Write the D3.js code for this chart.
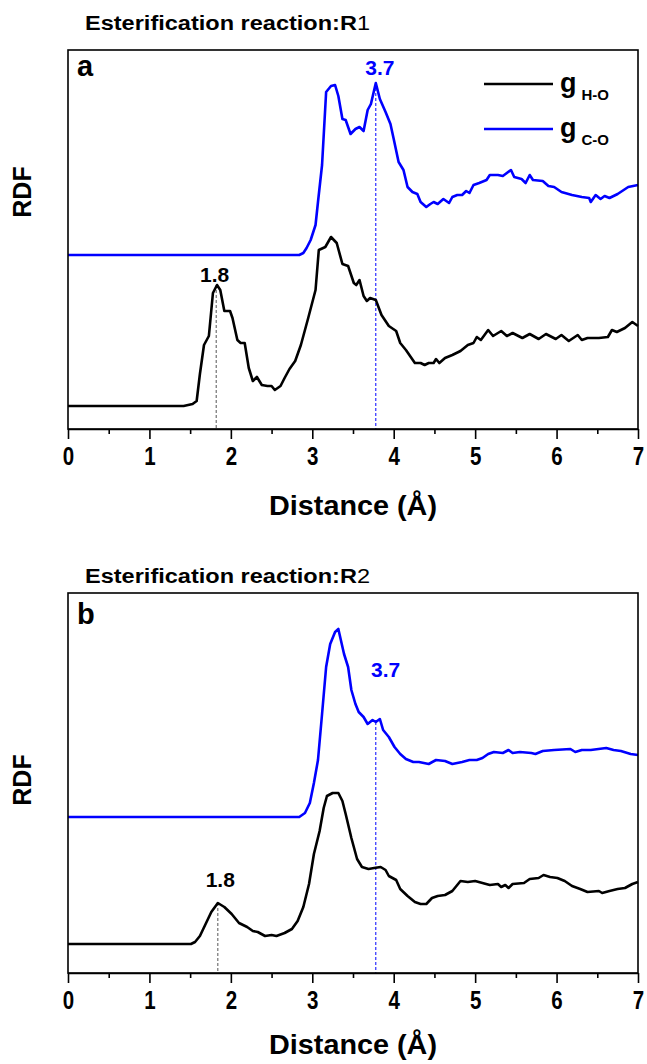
<!DOCTYPE html>
<html><head><meta charset="utf-8">
<script src="https://cdn.jsdelivr.net/npm/d3@7"></script>
<style>body{margin:0;background:#fff;} svg{display:block;font-family:"Liberation Sans",Arial,sans-serif;}</style>
</head><body><svg id="c" width="647" height="1064"></svg>
<script>
// ---- data ----
const xTicks = [0,1,2,3,4,5,6,7];
const xMinor = [0.5,1.5,2.5,3.5,4.5,5.5,6.5];
const titles = ["Esterification reaction:R", "Esterification reaction:R"];
const titleNums = ["1", "2"];
const panelLetters = ["a", "b"];
const seriesNames = ["H-O", "C-O"];
const xLabel = "Distance (Å)";
const yLabel = "RDF";

// Panel a, g(H-O)
const rA_HO = [0,1.42,1.53,1.58,1.62,1.67,1.73,1.78,1.83,1.87,1.92,1.99,2.02,2.08,2.12,2.17,2.22,2.27,2.32,2.38,2.45,2.50,2.54,2.61,2.66,2.72,2.79,2.86,2.95,3.04,3.08,3.16,3.23,3.30,3.37,3.44,3.51,3.54,3.58,3.63,3.67,3.71,3.78,3.85,3.94,4.03,4.08,4.15,4.26,4.33,4.38,4.43,4.49,4.52,4.56,4.63,4.72,4.82,4.91,4.98,5.02,5.07,5.16,5.22,5.32,5.39,5.46,5.58,5.67,5.78,5.87,5.99,6.06,6.15,6.26,6.31,6.38,6.52,6.63,6.68,6.74,6.84,6.93,7.0];
const gA_HO = [0,0,0.02,0.05,0.32,0.61,0.70,1.13,1.21,1.16,0.95,0.95,0.88,0.66,0.63,0.63,0.38,0.25,0.29,0.21,0.20,0.20,0.16,0.20,0.28,0.37,0.45,0.61,0.88,1.16,1.56,1.59,1.69,1.63,1.42,1.40,1.23,1.21,1.26,1.10,1.05,1.08,1.06,0.91,0.80,0.75,0.63,0.56,0.43,0.43,0.41,0.43,0.43,0.47,0.43,0.48,0.51,0.55,0.61,0.63,0.69,0.66,0.76,0.70,0.75,0.70,0.73,0.68,0.72,0.67,0.72,0.67,0.71,0.65,0.71,0.66,0.68,0.68,0.69,0.76,0.74,0.78,0.84,0.80];
// Panel a, g(C-O) (plotted with vertical offset)
const rA_CO = [0,2.84,2.89,2.93,2.98,3.04,3.07,3.12,3.17,3.23,3.28,3.32,3.37,3.41,3.47,3.53,3.58,3.63,3.68,3.72,3.78,3.83,3.90,3.96,4.00,4.06,4.12,4.17,4.23,4.29,4.33,4.40,4.45,4.49,4.54,4.61,4.68,4.72,4.78,4.84,4.89,4.93,4.98,5.05,5.14,5.18,5.28,5.34,5.44,5.48,5.57,5.62,5.67,5.71,5.83,5.90,5.97,6.06,6.19,6.31,6.40,6.42,6.48,6.54,6.59,6.65,6.75,6.88,7.0];
const gA_CO = [0,0,0.02,0.07,0.15,0.30,0.53,0.90,1.63,1.69,1.70,1.59,1.36,1.35,1.21,1.26,1.28,1.24,1.45,1.51,1.72,1.56,1.43,1.31,1.16,0.93,0.85,0.68,0.63,0.61,0.53,0.48,0.51,0.53,0.51,0.56,0.52,0.58,0.60,0.60,0.64,0.62,0.70,0.72,0.75,0.80,0.80,0.79,0.85,0.78,0.76,0.72,0.80,0.75,0.74,0.69,0.68,0.63,0.60,0.58,0.57,0.53,0.60,0.56,0.59,0.57,0.61,0.68,0.70];
// Panel b, g(H-O)
const rB_HO = [0,1.51,1.56,1.62,1.69,1.76,1.84,1.92,2.01,2.10,2.20,2.27,2.33,2.42,2.50,2.56,2.66,2.75,2.82,2.89,2.96,3.02,3.09,3.14,3.18,3.25,3.32,3.37,3.41,3.48,3.55,3.61,3.69,3.76,3.84,3.90,3.94,4.03,4.08,4.17,4.26,4.33,4.40,4.47,4.54,4.63,4.72,4.77,4.82,4.91,5.00,5.09,5.18,5.28,5.32,5.37,5.41,5.46,5.60,5.67,5.78,5.84,5.92,6.01,6.10,6.19,6.29,6.38,6.52,6.56,6.65,6.75,6.84,6.93,7.0];
const gB_HO = [0,0,0.02,0.08,0.20,0.32,0.41,0.37,0.30,0.21,0.17,0.13,0.12,0.08,0.09,0.08,0.11,0.15,0.23,0.37,0.60,0.90,1.13,1.36,1.48,1.51,1.51,1.43,1.30,1.06,0.85,0.77,0.75,0.76,0.77,0.74,0.68,0.64,0.55,0.48,0.42,0.40,0.40,0.46,0.48,0.49,0.53,0.58,0.63,0.62,0.63,0.61,0.59,0.60,0.57,0.59,0.56,0.60,0.61,0.65,0.66,0.69,0.67,0.66,0.63,0.58,0.55,0.52,0.53,0.51,0.53,0.55,0.56,0.60,0.62];
// Panel b, g(C-O)
const rB_CO = [0,2.84,2.91,2.97,3.02,3.07,3.12,3.17,3.22,3.28,3.32,3.39,3.44,3.48,3.53,3.57,3.63,3.68,3.74,3.78,3.83,3.87,3.94,4.01,4.08,4.15,4.24,4.31,4.43,4.52,4.63,4.72,4.84,4.93,5.02,5.09,5.16,5.23,5.34,5.41,5.46,5.55,5.69,5.74,5.83,5.97,6.17,6.23,6.31,6.42,6.61,6.70,6.79,6.91,7.0];
const gB_CO = [0,0,0.04,0.14,0.34,0.57,1.03,1.50,1.73,1.85,1.88,1.63,1.50,1.27,1.13,1.05,1.00,0.93,0.97,0.95,0.98,0.87,0.80,0.70,0.63,0.58,0.55,0.55,0.53,0.57,0.56,0.53,0.55,0.57,0.57,0.59,0.63,0.65,0.64,0.67,0.64,0.65,0.64,0.63,0.66,0.67,0.68,0.65,0.67,0.67,0.69,0.67,0.66,0.63,0.62];

const coOffsets = [1.51, 1.27];
// marked peaks: [r, g at it, label]
const hoMarks = [[1.82, 1.21, "1.8"], [1.84, 0.41, "1.8"]];
const coMarks = [[3.78, 1.72, "3.7"], [3.78, 0.95, "3.7"]];

// ---- layout ----
const svg = d3.select("#c");
const left = 68, right = 638;
const panels = [
  {top: 50, bottom: 429, yDom: [-0.23, 3.56], titleY: 30, letterY: 76, rdfY: 192, xlabY: 515,
   ho: [rA_HO, gA_HO], co: [rA_CO, gA_CO], legend: true, coLab: [3.83, -8], hoLab: [1.80, -3]},
  {top: 593, bottom: 973, yDom: [-0.29, 3.51], titleY: 583, letterY: 624, rdfY: 780, xlabY: 1054,
   ho: [rB_HO, gB_HO], co: [rB_CO, gB_CO], legend: false, coLab: [3.90, -45], hoLab: [1.87, -16]}
];
const blue = "#0000ff";

const x = d3.scaleLinear().domain([0, 7]).range([left, right]);

panels.forEach((p, i) => {
  const y = d3.scaleLinear().domain(p.yDom).range([p.bottom, p.top]);
  const g = svg.append("g");
  const off = coOffsets[i];

  const t = g.append("text").attr("x", 85).attr("y", p.titleY)
    .attr("font-size", 20).attr("font-weight", "bold").attr("fill", "#000")
    .attr("textLength", 285).attr("lengthAdjust", "spacingAndGlyphs");
  t.append("tspan").text(titles[i]);
  t.append("tspan").attr("font-weight", "normal").text(titleNums[i]);

  const hm = hoMarks[i], cm = coMarks[i];
  g.append("line").attr("x1", x(hm[0])).attr("x2", x(hm[0]))
    .attr("y1", y(hm[1])).attr("y2", p.bottom)
    .attr("stroke", "#555").attr("stroke-width", 1).attr("stroke-dasharray", "3,2");
  g.append("line").attr("x1", x(cm[0])).attr("x2", x(cm[0]))
    .attr("y1", y(cm[1] + off)).attr("y2", p.bottom)
    .attr("stroke", blue).attr("stroke-width", 1).attr("stroke-dasharray", "3,2");

  const line = d3.line().x(d => x(d[0])).y(d => y(d[1]));
  const hoData = p.ho[0].map((r, k) => [r, p.ho[1][k]]);
  const coData = p.co[0].map((r, k) => [r, p.co[1][k] + off]);
  g.append("path").datum(hoData).attr("d", line).attr("fill", "none")
    .attr("stroke", "#000").attr("stroke-width", 2.6).attr("stroke-linejoin", "round");
  g.append("path").datum(coData).attr("d", line).attr("fill", "none")
    .attr("stroke", blue).attr("stroke-width", 2.6).attr("stroke-linejoin", "round");

  g.append("text").attr("x", x(p.hoLab[0])).attr("y", y(hm[1]) + p.hoLab[1])
    .attr("text-anchor", "middle").attr("font-size", 21).attr("font-weight", "bold")
    .attr("fill", "#000").text(hm[2]);
  g.append("text").attr("x", x(p.coLab[0])).attr("y", y(cm[1] + off) + p.coLab[1])
    .attr("text-anchor", "middle").attr("font-size", 21).attr("font-weight", "bold")
    .attr("fill", blue).text(cm[2]);

  g.append("rect").attr("x", left).attr("y", p.top)
    .attr("width", right - left).attr("height", p.bottom - p.top)
    .attr("fill", "none").attr("stroke", "#000").attr("stroke-width", 1.6);

  const ax = g.append("g").attr("transform", `translate(0,${p.bottom})`)
    .call(d3.axisBottom(x).tickValues(xTicks).tickSize(10).tickSizeOuter(0).tickPadding(8).tickFormat(d3.format("d")));
  ax.select(".domain").attr("stroke-width", 1.6);
  ax.selectAll(".tick line").attr("stroke-width", 1.6);
  ax.selectAll(".tick text").attr("font-size", 25).attr("font-weight", "bold")
    .attr("font-family", "'Liberation Sans',Arial,sans-serif").attr("fill", "#000")
    .attr("transform", "scale(0.82,1)");
  const axm = g.append("g").attr("transform", `translate(0,${p.bottom})`)
    .call(d3.axisBottom(x).tickValues(xMinor).tickSize(5).tickFormat(""));
  axm.select(".domain").remove();
  axm.selectAll(".tick line").attr("stroke-width", 1.6);

  g.append("text").attr("x", (left + right) / 2).attr("y", p.xlabY)
    .attr("text-anchor", "middle").attr("font-size", 27).attr("font-weight", "bold")
    .attr("textLength", 168).attr("lengthAdjust", "spacingAndGlyphs")
    .attr("fill", "#000").text(xLabel);
  g.append("text").attr("transform", `translate(31,${p.rdfY}) rotate(-90)`)
    .attr("text-anchor", "middle").attr("font-size", 25).attr("font-weight", "bold")
    .attr("fill", "#000").text(yLabel);

  g.append("text").attr("x", 77).attr("y", p.letterY)
    .attr("font-size", 29).attr("font-weight", "bold").attr("fill", "#000").text(panelLetters[i]);

  if (p.legend) {
    const items = [{c: "#000", n: seriesNames[0], yy: 84}, {c: blue, n: seriesNames[1], yy: 129}];
    items.forEach(it => {
      g.append("line").attr("x1", 484).attr("x2", 553).attr("y1", it.yy).attr("y2", it.yy)
        .attr("stroke", it.c).attr("stroke-width", 2.6);
      const lt = g.append("text").attr("x", 560).attr("y", it.yy + 8)
        .attr("font-size", 27).attr("font-weight", "bold").attr("fill", "#000");
      lt.append("tspan").text("g");
      lt.append("tspan").attr("dx", 5).attr("dy", 8).attr("font-size", 15).text(it.n);
    });
  }
});
</script>
</body></html>
